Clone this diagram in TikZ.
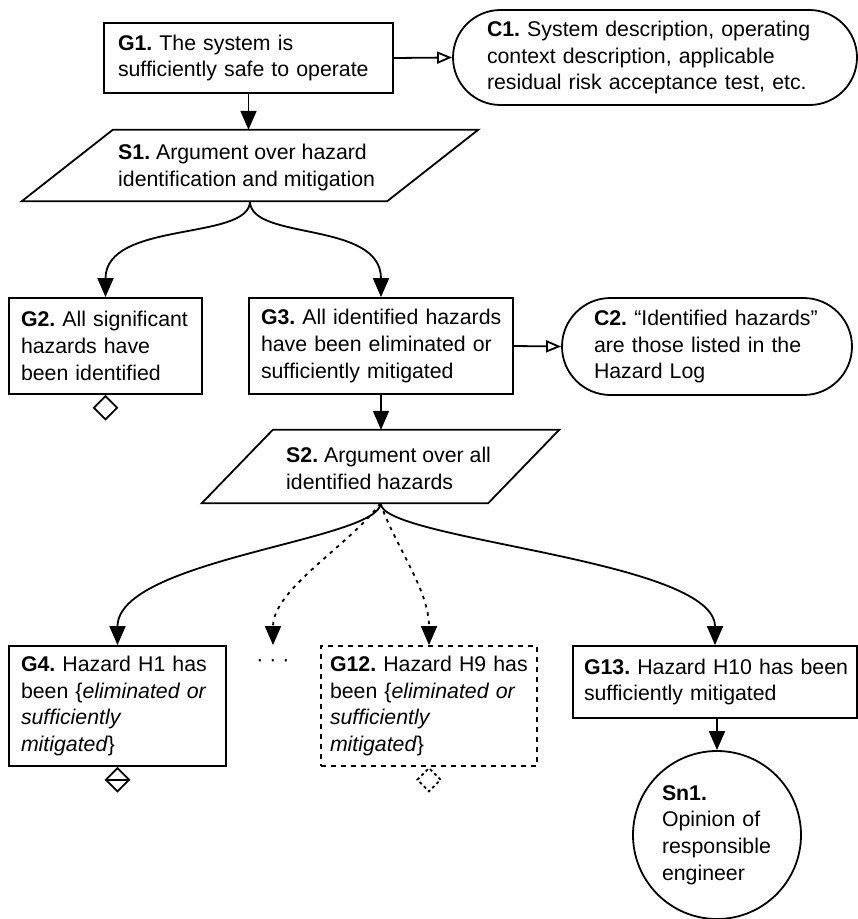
\documentclass[tikz,border=0pt]{standalone}
\usepackage{fontspec}
\setmainfont{Liberation Sans}
\usetikzlibrary{arrows.meta,shapes.geometric,calc}
\begin{document}
\frenchspacing
\hyphenpenalty=10000
\exhyphenpenalty=10000
\begin{tikzpicture}[x=1pt,y=-1pt,
  every node/.style={font=\fontsize{21.3}{26.8}\selectfont},
  lw/.style={line width=1.8pt},
  box/.style={draw, lw, rectangle, align=left, inner ysep=0pt},
  frame/.style={rectangle, inner sep=0pt},
  plain/.style={align=left, inner sep=0pt, anchor=west},
  arr/.style={lw, -{Triangle[length=19pt,width=16pt]}},
  ctxarr/.style={lw, -{Triangle[open,length=15pt,width=12pt,fill=white]}},
  dasharr/.style={arr, dash pattern=on 3.5pt off 5pt},
  dmd/.style={diamond, draw, lw, minimum width=24pt, minimum height=24pt, inner sep=0pt, anchor=north}
]
\path[use as bounding box, fill=white] (0,0) rectangle (858,919);

% Goals and contexts
\node[box, text width=261pt, inner xsep=14pt, minimum height=70pt] (G1) at (248.5,58)
  {\mbox{\textbf{G1.} The system is}\\ \mbox{sufficiently safe to operate}};
\node[box, rounded corners=47.5pt, text width=336pt, inner xsep=34pt, minimum height=95pt] (C1) at (655,57.5)
  {\mbox{\textbf{C1.} System description, operating}\\ \mbox{context description, applicable}\\ \mbox{residual risk acceptance test, etc.}};

% S1 strategy
\node[frame, minimum width=365pt, minimum height=71pt] (S1) at (250,165.5) {};
\draw[lw] ($(S1.north west)+(45.5,0)$) -- ($(S1.north east)+(45.5,0)$) -- ($(S1.south east)-(45.5,0)$) -- ($(S1.south west)-(45.5,0)$) -- cycle;
\node[plain] (S1t) at (118,167.5) {\textbf{S1.} Argument over hazard\\ identification and mitigation};

\node[box, text width=169pt, inner xsep=12pt, minimum height=96pt] (G2) at (105.5,346)
  {\mbox{\textbf{G2.} All significant}\\ hazards have\\ been identified};
\node[dmd] (G2d) at (G2.south) {};

\node[box, text width=240pt, inner xsep=12pt, minimum height=96pt] (G3) at (381,346)
  {\mbox{\textbf{G3.} All identified hazards}\\ \mbox{have been eliminated or}\\ \mbox{sufficiently mitigated}};
\node[box, rounded corners=48.5pt, text width=226pt, inner xsep=32pt, minimum height=97pt] (C2) at (707,346.5)
  {\mbox{\textbf{C2.} “Identified hazards”}\\ \mbox{are those listed in the}\\ Hazard Log};

% S2 strategy
\node[frame, minimum width=286pt, minimum height=73pt] (S2) at (380.5,466.5) {};
\draw[lw] ($(S2.north west)+(35.5,0)$) -- ($(S2.north east)+(35.5,0)$) -- ($(S2.south east)-(35.5,0)$) -- ($(S2.south west)-(35.5,0)$) -- cycle;
\node[plain] (S2t) at (286,468.5) {\textbf{S2.} Argument over all\\ identified hazards};

% lower goals
\node[box, text width=193pt, inner xsep=12pt, minimum height=120pt] (G4) at (117.5,706)
  {\mbox{\textbf{G4.} Hazard H1 has}\\ \mbox{been \{\textit{eliminated or}}\\ \textit{sufficiently}\\ \textit{mitigated}\}};
\node[dmd] (G4d) at (G4.south) {};
\draw[lw] (G4d.west) -- (G4d.east);

\node[inner sep=0pt] (dots) at (273,663) {·\ ·\ ·};

\node[box, dash pattern=on 5pt off 5pt, text width=198pt, inner xsep=9pt, minimum height=120pt] (G12) at (429,706)
  {\mbox{\textbf{G12.} Hazard H9 has}\\ \mbox{been \{\textit{eliminated or}}\\ \textit{sufficiently}\\ \textit{mitigated}\}};
\node[dmd, dash pattern=on 3pt off 3pt] (G12d) at (G12.south) {};

\node[box, text width=262pt, inner xsep=11pt, minimum height=72pt] (G13) at (715,682)
  {\mbox{\textbf{G13.} Hazard H10 has been}\\ \mbox{sufficiently mitigated}};

\node[circle, draw, lw, minimum size=168pt, inner sep=0pt, text width=110pt, align=left] (Sn1) at (717,835)
  {\textbf{Sn1.}\\ Opinion of\\ responsible\\ engineer};

% connectors
\draw[arr] (G1.south) -- (G1.south |- S1.north);
\draw[ctxarr] (G1.east) -- (C1.west);
\draw[arr] (S1.south) .. controls +(0,40) and +(0,-77) .. (G2.north);
\draw[arr] (S1.south) .. controls +(0,40) and +(0,-77) .. (G3.north);
\draw[ctxarr] (G3.east) -- (C2.west);
\draw[arr] (G3.south) -- (G3.south |- S2.north);
\draw[arr] (S2.south) .. controls +(0,37) and +(0,-86) .. (G4.north);
\draw[dasharr] (S2.south) .. controls +(-31,42) and +(0,-56) .. (dots.north |- G4.north);
\draw[dasharr] (S2.south) .. controls +(14,42) and +(0,-56) .. (G12.north);
\draw[arr] (S2.south) .. controls +(0,37) and +(0,-86) .. (G13.north);
\draw[arr] (Sn1.north |- G13.south) -- (Sn1.north);
\end{tikzpicture}
\end{document}
